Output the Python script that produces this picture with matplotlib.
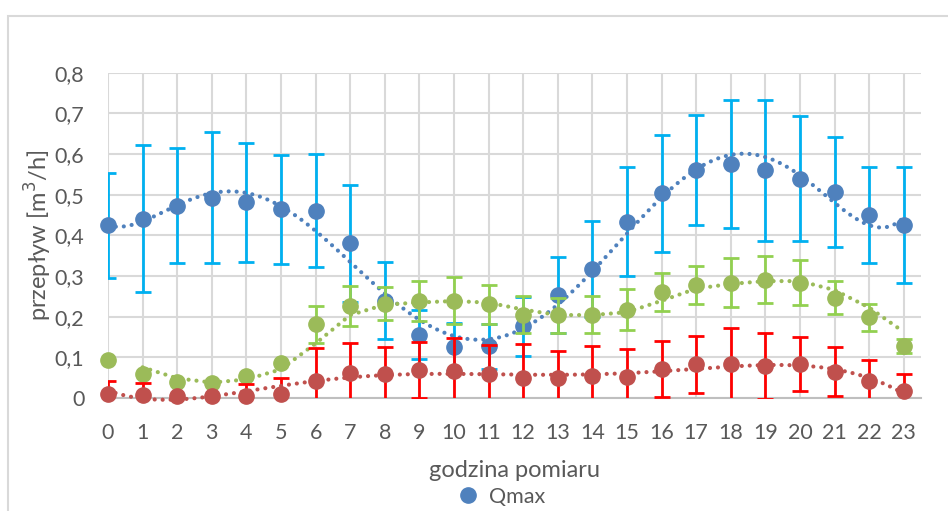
import numpy as np
import matplotlib
matplotlib.use("Agg")
import matplotlib.pyplot as plt
from matplotlib.patches import Rectangle
from matplotlib.ticker import FuncFormatter

plt.rcParams['font.family'] = ['Lato', 'DejaVu Sans']

hours = list(range(24))

qmax = [0.425, 0.441, 0.473, 0.493, 0.481, 0.464, 0.460, 0.380, 0.239, 0.156, 0.126, 0.127,
        0.176, 0.253, 0.317, 0.433, 0.503, 0.560, 0.576, 0.560, 0.539, 0.507, 0.450, 0.425]
qmax_err = [0.129, 0.181, 0.141, 0.161, 0.146, 0.134, 0.139, 0.143, 0.095, 0.060, 0.059, 0.056,
            0.073, 0.094, 0.118, 0.134, 0.143, 0.135, 0.158, 0.173, 0.154, 0.135, 0.119, 0.142]

qavg = [0.093, 0.058, 0.039, 0.037, 0.054, 0.087, 0.181, 0.227, 0.232, 0.238, 0.239, 0.230,
        0.205, 0.203, 0.205, 0.217, 0.261, 0.277, 0.284, 0.291, 0.284, 0.247, 0.198, 0.127]
qavg_err = [0.0, 0.0, 0.0, 0.0, 0.0, 0.0, 0.045, 0.049, 0.040, 0.049, 0.058, 0.047,
            0.045, 0.042, 0.046, 0.050, 0.047, 0.047, 0.061, 0.058, 0.056, 0.041, 0.033, 0.017]

qmin = [0.011, 0.008, 0.006, 0.006, 0.006, 0.011, 0.041, 0.062, 0.060, 0.068, 0.066, 0.060,
        0.049, 0.049, 0.053, 0.052, 0.071, 0.083, 0.083, 0.078, 0.083, 0.065, 0.043, 0.016]
qmin_err = [0.030, 0.030, 0.0, 0.0, 0.028, 0.037, 0.081, 0.073, 0.065, 0.069, 0.082, 0.070,
            0.083, 0.067, 0.074, 0.068, 0.068, 0.070, 0.090, 0.081, 0.066, 0.061, 0.050, 0.044]

y_ticks = [0, 0.1, 0.2, 0.3, 0.4, 0.5, 0.6, 0.7, 0.8]

W, H = 948, 511
fig = plt.figure(figsize=(W / 100, H / 100), dpi=100)
fig.patch.set_facecolor('white')

# chart border
fig.patches.append(Rectangle((8 / W, -0.1), 1.2, 1 - 16 / H + 0.1, transform=fig.transFigure,
                             fill=False, edgecolor='#D9D9D9', linewidth=1.5, zorder=0))

ax = fig.add_axes([108 / W, 1 - 398 / H, (921 - 108) / W, (398 - 72.7) / H])
ax.set_xlim(0, 23.5)
ax.set_ylim(0, 0.8)

dot_style = (0, (0.01, 1.9))

# trend types: polynomial (order 6) for Qmax / Qmin, moving average (period 2) for middle series
series = [
    (qmax, qmax_err, '#4F81BD', '#00B0F0', 'poly', 'Qmax'),
    (qavg, qavg_err, '#9BBB59', '#92D050', 'ma', None),
    (qmin, qmin_err, '#C0504D', '#FF0000', 'poly', None),
]

z = 3
for vals, errs, mcol, ecol, trend, lab in series:
    v = np.array(vals)
    e = np.array(errs)
    x = np.array(hours, dtype=float)
    mask = e > 0
    ax.errorbar(x[mask], v[mask], yerr=e[mask], fmt='none', ecolor=ecol, elinewidth=2,
                capsize=6, capthick=2, zorder=z, clip_on=True)
    if trend == 'poly':
        coef = np.polyfit(x, v, 6)
        xs = np.linspace(x.min(), x.max(), 400)
        ys = np.polyval(coef, xs)
    else:
        xs = x[1:]
        ys = (v[1:] + v[:-1]) / 2.0
    ax.plot(xs, ys, linestyle=dot_style, color=mcol, linewidth=3.0,
            dash_capstyle='round', zorder=z + 0.5, clip_on=False)
    ax.plot(x, v, 'o', color=mcol, markersize=11, zorder=z + 1, clip_on=False, label=lab)
    z += 2

ax.set_xticks(hours)
ax.set_yticks(y_ticks)
ax.yaxis.set_major_formatter(FuncFormatter(lambda v, p: ('%g' % round(v, 1)).replace('.', ',')))
ax.grid(True, color='#D9D9D9', linewidth=1.5, zorder=0)
ax.set_axisbelow(True)
for s in ['top', 'right', 'left']:
    ax.spines[s].set_visible(False)
ax.spines['bottom'].set_color('#BFBFBF')
ax.spines['bottom'].set_linewidth(1.5)
ax.tick_params(axis='both', length=0, labelsize=15.5, labelcolor='#595959')
ax.tick_params(axis='x', pad=18)
ax.tick_params(axis='y', pad=17)

ax.set_xlabel('godzina pomiaru', fontsize=17, color='#595959', labelpad=12)
ax.set_ylabel('przepływ [m$^3$/h]', fontsize=17, color='#595959')
ax.yaxis.set_label_coords(38 / W, 1 - 235 / H, transform=fig.transFigure)
ax.yaxis.label.set_verticalalignment('center')

leg = fig.legend(loc='center', bbox_to_anchor=(496 / W, 1 - 497 / H), frameon=False,
                 fontsize=15.5, handletextpad=0.0, markerscale=1.0, borderpad=0)
for t in leg.get_texts():
    t.set_color('#595959')

fig.savefig('out.png', dpi=100, facecolor='white')
